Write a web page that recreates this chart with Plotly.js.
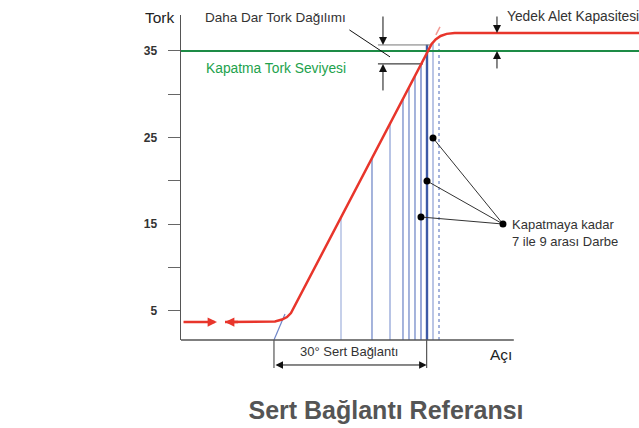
<!DOCTYPE html>
<html>
<head>
<meta charset="utf-8">
<script src="https://cdn.plot.ly/plotly-3.0.1.min.js"></script>
<style>html,body{margin:0;padding:0;background:#fff;}#chart{width:639px;height:428px;}</style>
</head>
<body>
<div id="chart"></div>
<script>
// ---- data (angle in degrees, torque in arbitrary units) ----
const yTickVals = [5, 10, 15, 20, 25, 30, 35];
const yTickText = ['5', '', '15', '', '25', '', '35'];

const preloadAngle = [0.2, 7.07];
const preloadTorque = [3.67, 3.67];

const torqueCurveAngle = [8.65, 16.51, 18.47, 19.85, 20.83, 21.61, 48.47, 49.26, 50.04, 51.02, 52.20, 53.77, 55.74, 90];
const torqueCurveTorque = [3.67, 3.67, 3.73, 3.96, 4.25, 4.71, 35.0, 35.81, 36.33, 36.73, 36.97, 37.06, 37.08, 37.08];

const extensionAngle = [48.47, 51.09];
const extensionTorque = [35.0, 38.0];

const jointStartAngle = [18.27, 20.44];
const jointStartTorque = [1.6, 4.6];

const shutoffTorque = 35;
const capacityTorque = 37.08;

const impulseAngle = [31.44, 37.53, 41.07, 43.62, 44.80, 45.98, 47.16, 48.34, 49.52, 50.70];
const impulseTorque = [15.8, 22.6, 26.6, 29.5, 30.8, 32.2, 33.5, 35.7, 35.9, 35.9];

const hardJointStart = 18.27;
const hardJointDegrees = 30;

const bandAngleStart = 38.7;
const bandTopEnd = 49.1;
const bandBottomEnd = 47.55;
const bandTopTorque = 35.69;
const bandBottomTorque = 33.5;

const pointerDotAngle = [49.52, 48.34, 47.16];
const pointerDotTorque = [24.94, 19.97, 15.81];
const hubAngle = 63.27;
const hubTorque = 15.0;

// ---- styles ----
const impulseStyle = [
  {c: '#c6d0ea', w: 2}, {c: '#8fa1d3', w: 1.6}, {c: '#b8c4e5', w: 2},
  {c: '#8fa1d3', w: 1.6}, {c: '#8fa1d3', w: 1.6}, {c: '#8fa1d3', w: 1.6},
  {c: '#7f93cd', w: 1.6}, {c: '#3d5aa6', w: 2.4}, {c: '#a9b7df', w: 1.6},
  {c: '#8fa1d3', w: 1.6, d: 'dot'}
];
const RED = '#e8352b';
const GREEN = '#1d8b46';
const FONT = 'Liberation Sans, Arial, sans-serif';
const yMin = 1.6, yMax = 39.15;

const traces = [];
impulseAngle.forEach((a, i) => {
  traces.push({x: [a, a], y: [yMin, impulseTorque[i]], mode: 'lines',
    line: {color: impulseStyle[i].c, width: impulseStyle[i].w, dash: impulseStyle[i].d || 'solid'},
    hoverinfo: 'skip', showlegend: false});
});
traces.push({x: [0, 90], y: [shutoffTorque, shutoffTorque], mode: 'lines',
  line: {color: GREEN, width: 2}, showlegend: false, hoverinfo: 'skip'});
traces.push({x: jointStartAngle, y: jointStartTorque, mode: 'lines',
  line: {color: '#6f86c8', width: 1.2}, showlegend: false, hoverinfo: 'skip'});
traces.push({x: extensionAngle, y: extensionTorque, mode: 'lines',
  line: {color: '#f29a94', width: 1.5, dash: 'dash'}, showlegend: false, hoverinfo: 'skip'});
traces.push({x: [bandAngleStart, bandTopEnd], y: [bandTopTorque, bandTopTorque], mode: 'lines',
  line: {color: '#777', width: 1}, showlegend: false, hoverinfo: 'skip'});
traces.push({x: [bandAngleStart, bandBottomEnd], y: [bandBottomTorque, bandBottomTorque], mode: 'lines',
  line: {color: '#111', width: 1}, showlegend: false, hoverinfo: 'skip'});
traces.push({x: torqueCurveAngle, y: torqueCurveTorque, mode: 'lines',
  line: {color: RED, width: 2.5}, showlegend: false, hoverinfo: 'skip'});
const px = [], py = [];
pointerDotAngle.forEach((a, i) => { px.push(a, hubAngle, null); py.push(pointerDotTorque[i], hubTorque, null); });
traces.push({x: px, y: py, mode: 'lines', line: {color: '#333', width: 1}, showlegend: false, hoverinfo: 'skip'});
traces.push({x: pointerDotAngle.concat([hubAngle]), y: pointerDotTorque.concat([hubTorque]), mode: 'markers',
  marker: {color: '#000', size: 7}, showlegend: false, hoverinfo: 'skip'});

function arrow(x0, y0, x1, y1, color, width, size, head) {
  return {x: x1, y: y1, ax: x0, ay: y0, xref: 'x', yref: 'y', axref: 'x', ayref: 'y',
    text: '', showarrow: true, arrowcolor: color, arrowwidth: width, arrowsize: size, arrowhead: head};
}
function label(text, x, y, xanchor, size, color, ref) {
  return {x: x, y: y, xref: ref ? 'paper' : 'x', yref: ref ? 'paper' : 'y', text: text, showarrow: false,
    xanchor: xanchor, yanchor: 'middle', align: 'left',
    font: {family: FONT, size: size, color: color}};
}

const annotations = [
  arrow(preloadAngle[0], preloadTorque[0], preloadAngle[1], preloadTorque[1], RED, 2.5, 0.75, 2),
  arrow(11.5, torqueCurveTorque[0], torqueCurveAngle[0], torqueCurveTorque[0], RED, 2.5, 0.75, 2),
  arrow(39.69, yMax, 39.69, bandTopTorque, '#111', 1, 1.6, 2),
  arrow(39.69, 30.26, 39.69, bandBottomTorque, '#111', 1, 1.6, 2),
  arrow(62.09, yMax, 62.09, capacityTorque, '#111', 1, 1.6, 2),
  arrow(62.09, 32.8, 62.09, shutoffTorque, '#111', 1, 1.6, 2),
  arrow(32.8, 37.54, 41.07, 34.31, '#111', 1, 1, 0),
  {x: hardJointStart + hardJointDegrees, y: -0.0769, ax: hardJointStart, ay: 0, xref: 'x', yref: 'paper', axref: 'x', ayref: 'pixel',
    text: '', showarrow: true, arrowcolor: '#111', arrowwidth: 1, arrowsize: 1.5, arrowhead: 2,
    arrowside: 'end+start', startarrowhead: 2, startarrowsize: 1.5},
  label('Tork', -0.083, 0.991, 'left', 15.5, '#222', true),
  label('Daha Dar Tork Dağılımı', 4.32, 38.82, 'left', 13.5, '#333'),
  label('Kapatma Tork Seviyesi', 4.52, 32.92, 'left', 13.8, '#22a24c'),
  label('Yedek Alet Kapasitesi', 63.67, 38.93, 'left', 13.8, '#333'),
  label('Kapatmaya kadar<br>7 ile 9 arası Darbe', 64.65, 13.96, 'left', 13, '#333'),
  label('30° Sert Bağlantı', 0.3668, -0.0369, 'center', 13, '#333', true),
  label('Açı', 0.6703, -0.046, 'left', 15.5, '#222', true)
];

const shapes = [
  {type: 'line', xref: 'x', yref: 'paper', x0: 0, x1: 65.4, y0: 0, y1: 0, line: {color: '#555', width: 1.5}},
  {type: 'line', xref: 'x', yref: 'paper', x0: hardJointStart, x1: hardJointStart, y0: 0, y1: -0.086, line: {color: '#555', width: 1.2}},
  {type: 'line', xref: 'x', yref: 'paper', x0: hardJointStart + hardJointDegrees, x1: hardJointStart + hardJointDegrees, y0: 0, y1: -0.086, line: {color: '#555', width: 1.2}}
];

const layout = {
  width: 639, height: 428,
  margin: {l: 181, r: 0, t: 15, b: 88},
  paper_bgcolor: '#fff', plot_bgcolor: '#fff',
  showlegend: false,
  title: {text: '<b>Sert Bağlantı Referansı</b>', x: 386 / 639, xanchor: 'center', y: 1 - 410 / 428, yanchor: 'middle',
    font: {family: FONT, size: 25, color: '#555'}},
  xaxis: {range: [0, 90], showline: false, showgrid: false, zeroline: false, showticklabels: false, ticks: '', fixedrange: true},
  yaxis: {range: [yMin, yMax], showline: true, linecolor: '#555', linewidth: 1.5, showgrid: false, zeroline: false,
    tickmode: 'array', tickvals: yTickVals, ticktext: yTickText, ticks: 'outside', ticklen: 12, tickcolor: '#666', tickwidth: 1,
    ticklabelstandoff: 8, tickfont: {family: FONT, size: 12, color: '#333', weight: 'bold'}, fixedrange: true},
  annotations: annotations,
  shapes: shapes
};

Plotly.newPlot('chart', traces, layout, {displayModeBar: false, staticPlot: true});
</script>
</body>
</html>
